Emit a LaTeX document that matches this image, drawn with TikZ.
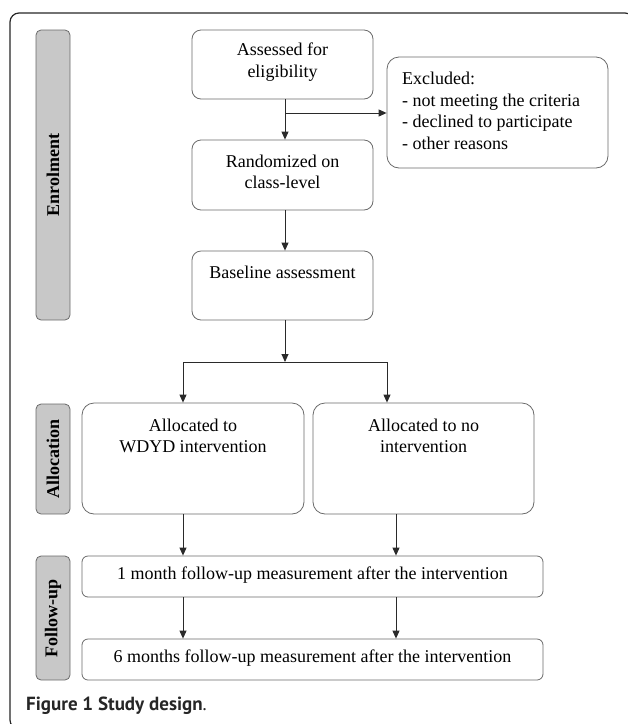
\documentclass[tikz,border=0pt]{standalone}
\usepackage{fontspec}
\setmainfont{Liberation Serif}
\newfontfamily\capfont{PT Sans}
\usetikzlibrary{arrows.meta}
\definecolor{boxline}{HTML}{6A6A6A}
\definecolor{sidegray}{HTML}{C8C8C8}
\definecolor{arrowcol}{HTML}{2A2A2A}
\tikzset{
  flowbox/.style={draw=boxline, line width=0.8pt, rounded corners=9pt, inner sep=0pt, fill=white},
  sidebox/.style={draw=boxline, line width=0.8pt, rounded corners=5pt, fill=sidegray, inner sep=0pt, minimum width=34pt},
  boxtext/.style={align=center, inner sep=0pt, font=\fontsize{18}{21.5}\selectfont},
  sidetext/.style={rotate=90, inner sep=0pt, font=\fontsize{18}{21}\selectfont\bfseries},
  flowarrow/.style={draw=arrowcol, line width=0.9pt, -{Triangle[length=8pt,width=7pt]}},
  flowline/.style={draw=arrowcol, line width=0.9pt}
}
\begin{document}
\begin{tikzpicture}[x=1pt,y=-1pt]
\useasboundingbox (0,0) rectangle (628,724);
% outer frame
\draw[line width=1.2pt, draw=black!85, rounded corners=9pt] (10,729) -- (10,13) -- (634,13) -- (634,729) -- cycle;
% side labels
\node[sidebox, minimum height=290pt] (enrol) at (53,175) {};
\node[sidetext] (enroltext) at (53,175) {Enrolment};
\node[sidebox, minimum height=110pt] (alloc) at (53,459) {};
\node[sidetext] (alloctext) at (53,459) {Allocation};
\node[sidebox, minimum height=124pt] (follow) at (53,618) {};
\node[sidetext] (followtext) at (53,618) {Follow-up};
% boxes
\node[flowbox, minimum width=181pt, minimum height=69pt] (assess) at (282.5,64.5) {};
\node[boxtext] (assesstext) at (282.5,62) {Assessed for\\eligibility};
\node[flowbox, minimum width=221pt, minimum height=111pt, rounded corners=12pt] (excl) at (497.5,112.5) {};
\node[boxtext, align=left, anchor=west] (excltext) at (402,111) {Excluded:\\- not meeting the criteria\\- declined to participate\\- other reasons};
\node[flowbox, minimum width=181pt, minimum height=70pt] (rand) at (282.5,175) {};
\node[boxtext] (randtext) at (282.5,172) {Randomized on\\class-level};
\node[flowbox, minimum width=181pt, minimum height=69pt] (base) at (282.5,285.5) {};
\node[boxtext] (basetext) at (282.5,272) {Baseline assessment};
\node[flowbox, minimum width=222pt, minimum height=111pt, rounded corners=12pt] (wdyd) at (193,458.5) {};
\node[boxtext] (wdydtext) at (193,436) {Allocated to\\WDYD intervention};
\node[flowbox, minimum width=221pt, minimum height=111pt, rounded corners=12pt] (noint) at (423.5,458.5) {};
\node[boxtext] (nointtext) at (423.5,436) {Allocated to no\\intervention};
\node[flowbox, minimum width=461pt, minimum height=41pt, rounded corners=6pt] (fu1) at (312.5,576.5) {};
\node[boxtext] (fu1text) at (312.5,575) {1 month follow-up measurement after the intervention};
\node[flowbox, minimum width=461pt, minimum height=41pt, rounded corners=6pt] (fu6) at (312.5,659.5) {};
\node[boxtext] (fu6text) at (312.5,658) {6 months follow-up measurement after the intervention};
% coordinates
\coordinate (split1) at (285,113);
\coordinate (junc) at (285,362);
\coordinate (jl) at (183,362);
\coordinate (jr) at (387,362);
% connectors
\draw[flowarrow] (assess.south -| split1) -- (rand.north -| split1);
\draw[flowarrow] (split1) -- (excl.west |- split1);
\draw[flowarrow] (rand.south -| split1) -- (base.north -| split1);
\draw[flowarrow] (base.south -| junc) -- (junc);
\draw[flowline] (jl) -- (jr);
\draw[flowarrow] (jl) -- (wdyd.north -| jl);
\draw[flowarrow] (jr) -- (noint.north -| jr);
\coordinate (c1) at (183,0);
\coordinate (c2) at (396,0);
\draw[flowarrow] (wdyd.south -| c1) -- (fu1.north -| c1);
\draw[flowarrow] (noint.south -| c2) -- (fu1.north -| c2);
\draw[flowarrow] (fu1.south -| c1) -- (fu6.north -| c1);
\draw[flowarrow] (fu1.south -| c2) -- (fu6.north -| c2);
% caption
\node[anchor=west, inner sep=0pt, font=\capfont\fontsize{19}{22}\selectfont, text=black!85] (caption) at (26,706) {\textbf{Figure 1 Study design}.};
\end{tikzpicture}
\end{document}
